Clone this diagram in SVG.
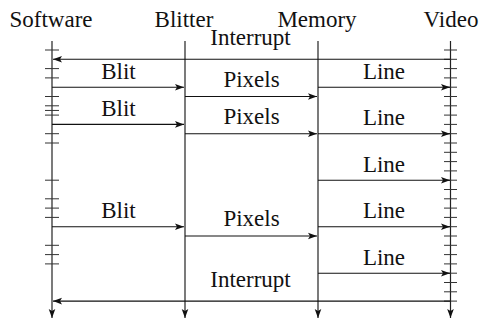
<svg xmlns="http://www.w3.org/2000/svg" width="479" height="322" viewBox="0 0 479 322">
<style>
text{font-size:23px;fill:#111;text-anchor:middle}
.life{stroke:#222;stroke-width:1.2;fill:none}
.tick{stroke:#333;stroke-width:1}
.msg{stroke:#111;stroke-width:1.1;fill:none;marker-end:url(#ah)}
</style>
<defs>
<marker id="ah" viewBox="-10 -4 11 8" refX="0" refY="0" markerWidth="11" markerHeight="8" markerUnits="userSpaceOnUse" orient="auto">
<path d="M0,0 L-9,-3.3 L-7,0 L-9,3.3 Z" fill="#111"/>
</marker>
</defs>
<rect width="479" height="322" fill="#fff"/>
<g font-family="Liberation Serif, Times New Roman, serif">
<g id="software">
<text x="51" y="27">Software</text>
<line class="life" x1="52" y1="41" x2="52" y2="318" marker-end="url(#ah)"/>
<path class="tick" d="M45,50H59M45,68.6H59M45,77.9H59M45,96.5H59M45,105.8H59M45,110.45H59M45,115.1H59M45,133.7H59M45,143H59M45,180.2H59M45,198.8H59M45,208.1H59M45,217.4H59M45,245.3H59M45,254.6H59M45,263.9H59"/>
</g>
<g id="blitter">
<text x="184" y="27">Blitter</text>
<line class="life" x1="185" y1="41" x2="185" y2="318" marker-end="url(#ah)"/>
</g>
<g id="memory">
<text x="317" y="27">Memory</text>
<line class="life" x1="318" y1="41" x2="318" y2="318" marker-end="url(#ah)"/>
</g>
<g id="video">
<text x="451" y="27">Video</text>
<line class="life" x1="450.5" y1="41" x2="450.5" y2="318" marker-end="url(#ah)"/>
<path class="tick" d="M444,50H457M444,59.3H457M444,68.6H457M444,77.9H457M444,87.2H457M444,96.5H457M444,105.8H457M444,115.1H457M444,124.4H457M444,133.7H457M444,143H457M444,152.3H457M444,161.6H457M444,170.9H457M444,180.2H457M444,189.5H457M444,198.8H457M444,208.1H457M444,217.4H457M444,226.7H457M444,236H457M444,245.3H457M444,254.6H457M444,263.9H457M444,273.2H457M444,282.5H457M444,291.8H457M444,301.1H457"/>
</g>
<g id="connectors">
<line class="msg" x1="450.5" y1="59.3" x2="53" y2="59.3"/>
<text x="250.5" y="45">Interrupt</text>
<line class="msg" x1="52" y1="87.2" x2="184" y2="87.2"/>
<text x="118.5" y="79">Blit</text>
<line class="msg" x1="185" y1="96.5" x2="317" y2="96.5"/>
<text x="251.5" y="86.5">Pixels</text>
<line class="msg" x1="318" y1="87.2" x2="450" y2="87.2"/>
<text x="384" y="78.5">Line</text>
<line class="msg" x1="52" y1="124.4" x2="184" y2="124.4"/>
<text x="118.5" y="116.4">Blit</text>
<line class="msg" x1="185" y1="133.7" x2="317" y2="133.7"/>
<text x="251.5" y="123.7">Pixels</text>
<line class="msg" x1="318" y1="133.7" x2="450" y2="133.7"/>
<text x="384" y="125">Line</text>
<line class="msg" x1="318" y1="180.2" x2="450" y2="180.2"/>
<text x="384" y="171.5">Line</text>
<line class="msg" x1="52" y1="226.7" x2="184" y2="226.7"/>
<text x="118.5" y="218">Blit</text>
<line class="msg" x1="185" y1="236" x2="317" y2="236"/>
<text x="251.5" y="226">Pixels</text>
<line class="msg" x1="318" y1="226.7" x2="450" y2="226.7"/>
<text x="384" y="218">Line</text>
<line class="msg" x1="318" y1="273.2" x2="450" y2="273.2"/>
<text x="384" y="264.5">Line</text>
<line class="msg" x1="450.5" y1="301.1" x2="53" y2="301.1"/>
<text x="250.5" y="287">Interrupt</text>
</g>
</g>
</svg>
